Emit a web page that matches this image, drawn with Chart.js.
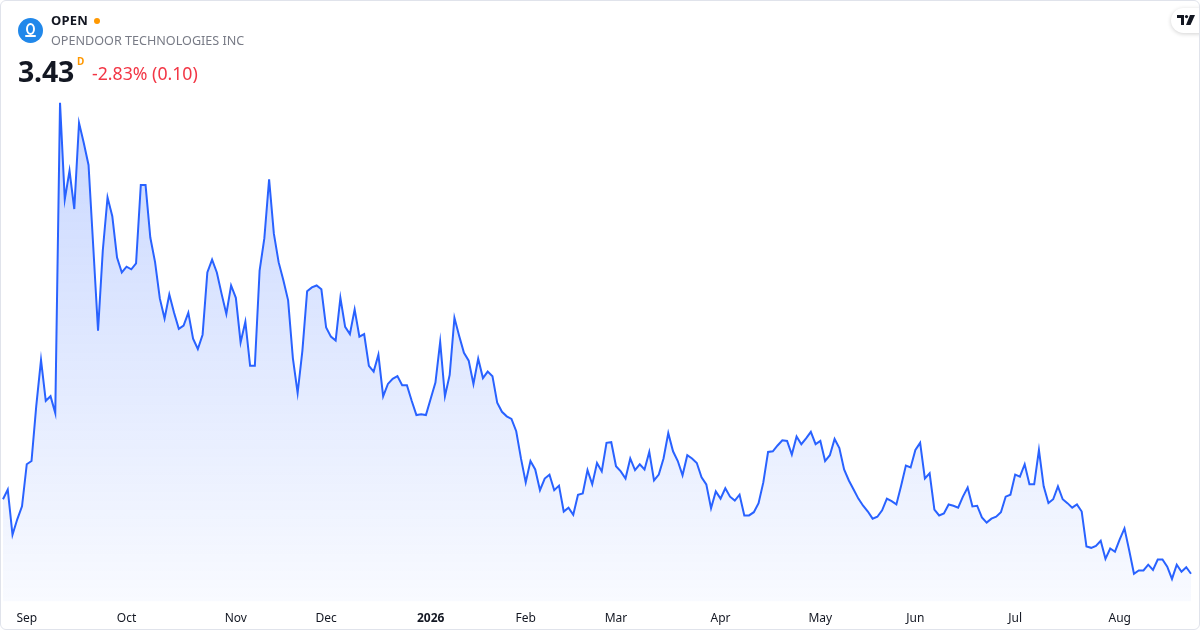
<!DOCTYPE html>
<html>
<head>
<meta charset="utf-8">
<script src="https://cdn.jsdelivr.net/npm/chart.js@4.4.1/dist/chart.umd.min.js"></script>
<style>
  html, body { margin: 0; padding: 0; background: #fff; }
  body { width: 1200px; height: 630px; position: relative; overflow: hidden; font-family: "Noto Sans", Roboto, sans-serif; }
  .card { position: absolute; left: 0; top: 0; width: 1198px; height: 628px; border: 1px solid #e0e3eb; border-radius: 6px; z-index: 2; pointer-events: none; }
  .chart-box { position: absolute; left: 0; top: 0; width: 1200px; height: 642px; }
  .logo { position: absolute; left: 18px; top: 18px; width: 25px; height: 25px; border-radius: 50%; background: #2188ea; }
  .logo .ring { position: absolute; left: 8px; top: 5px; width: 5px; height: 8px; border: 2px solid #fff; border-radius: 50%; }
  .logo .base { position: absolute; left: 7px; top: 17px; width: 11px; height: 2px; background: #fff; border-radius: 1px; }
  .sym { position: absolute; left: 51px; top: 11px; font-size: 13px; font-weight: 700; color: #131722; letter-spacing: 0.2px; }
  .dot { position: absolute; left: 94px; top: 18px; width: 6px; height: 6px; border-radius: 50%; background: #ff9800; }
  .name { position: absolute; left: 51px; top: 32px; font-size: 12.6px; color: #787b86; }
  .price { position: absolute; left: 18px; top: 52px; font-size: 28.5px; font-weight: 700; color: #131722; letter-spacing: -0.2px; }
  .dlabel { position: absolute; left: 77px; top: 54px; font-size: 10px; font-weight: 700; color: #ff9800; }
  .change { position: absolute; left: 92px; top: 61px; font-size: 17.7px; color: #f23645; }
  .tv { position: absolute; left: 1171px; top: 8px; width: 40px; height: 25px; border-radius: 13px; background: #fff; box-shadow: 0 1px 4px rgba(0,0,0,0.18); }
  .tv svg { position: absolute; left: 6px; top: 7px; }
</style>
</head>
<body>
<div class="card"></div>
<div class="chart-box"><canvas id="priceChart" width="1200" height="642"></canvas></div>
<div class="logo"><div class="ring"></div><div class="base"></div></div>
<div class="sym">OPEN</div>
<div class="dot"></div>
<div class="name">OPENDOOR TECHNOLOGIES INC</div>
<div class="price">3.43</div>
<div class="dlabel">D</div>
<div class="change">-2.83% (0.10)</div>
<div class="tv"><svg width="18" height="10" viewBox="0 0 18 10"><path d="M0 0h7v10H4V3H0z" fill="#131722"/><circle cx="9.5" cy="1.6" r="1.6" fill="#131722"/><path d="M13 0h5l-4.5 10H9z" fill="#131722"/></svg></div>
<script>
// Daily closes, OPEN, late Aug 2025 - Aug 2026
const startDate = "2025-08-25";
const holidays = [
  "2025-09-01", "2025-11-27", "2025-12-25", "2026-01-01", "2026-01-19",
  "2026-02-16", "2026-04-03", "2026-05-25", "2026-06-19", "2026-07-03",
];
const monthNames = ["Jan", "Feb", "Mar", "Apr", "May", "Jun", "Jul", "Aug", "Sep", "Oct", "Nov", "Dec"];

const closes = [
  4.58, 4.73, 4.03, 4.27, 4.47, 5.12, 5.17, 6.02, 6.73, 6.10,
  6.17, 5.91, 10.70, 9.21, 9.65, 9.06, 10.39, 10.08, 9.74, 8.47,
  7.18, 8.42, 9.24, 8.95, 8.31, 8.08, 8.17, 8.13, 8.22, 9.43,
  9.43, 8.62, 8.24, 7.68, 7.37, 7.74, 7.46, 7.21, 7.26, 7.46,
  7.06, 6.90, 7.12, 8.08, 8.28, 8.08, 7.75, 7.44, 7.88, 7.69,
  7.00, 7.32, 6.64, 6.64, 8.11, 8.61, 9.52, 8.68, 8.24, 7.96,
  7.65, 6.76, 6.22, 6.87, 7.79, 7.85, 7.88, 7.82, 7.23, 7.09,
  7.03, 7.69, 7.24, 7.13, 7.51, 7.09, 7.13, 6.64, 6.55, 6.81,
  6.17, 6.36, 6.44, 6.48, 6.34, 6.34, 6.10, 5.88, 5.89, 5.88,
  6.13, 6.38, 7.01, 6.17, 6.50, 7.38, 7.10, 6.84, 6.72, 6.36,
  6.75, 6.45, 6.55, 6.48, 6.07, 5.93, 5.86, 5.82, 5.63, 5.21,
  4.84, 5.17, 5.04, 4.72, 4.90, 4.96, 4.72, 4.79, 4.39, 4.45,
  4.34, 4.65, 4.67, 5.03, 4.81, 5.14, 5.01, 5.45, 5.46, 5.09,
  5.01, 4.90, 5.21, 5.03, 5.12, 5.04, 5.31, 4.87, 4.96, 5.21,
  5.60, 5.32, 5.17, 4.95, 5.26, 5.21, 5.14, 4.92, 4.81, 4.44,
  4.70, 4.59, 4.75, 4.62, 4.56, 4.65, 4.33, 4.33, 4.38, 4.52,
  4.84, 5.31, 5.32, 5.41, 5.49, 5.48, 5.27, 5.55, 5.43, 5.52,
  5.62, 5.43, 5.48, 5.17, 5.26, 5.51, 5.37, 5.04, 4.87, 4.73,
  4.59, 4.48, 4.39, 4.28, 4.31, 4.41, 4.59, 4.55, 4.50, 4.79,
  5.10, 5.07, 5.34, 5.45, 4.90, 4.98, 4.42, 4.33, 4.36, 4.50,
  4.48, 4.45, 4.62, 4.76, 4.47, 4.48, 4.30, 4.22, 4.28, 4.31,
  4.38, 4.62, 4.65, 4.96, 4.93, 5.12, 4.81, 4.81, 5.34, 4.78,
  4.52, 4.58, 4.78, 4.58, 4.52, 4.45, 4.50, 4.39, 3.85, 3.83,
  3.86, 3.94, 3.66, 3.82, 3.77, 3.96, 4.13, 3.79, 3.43, 3.48,
  3.48, 3.57, 3.49, 3.65, 3.65, 3.54, 3.35, 3.57, 3.46, 3.53,
  3.43,
];

// trading days: weekdays minus exchange holidays
const tradingDays = [];
let day = new Date(startDate + "T00:00:00Z");
while (tradingDays.length < closes.length) {
  const iso = day.toISOString().slice(0, 10);
  const wd = day.getUTCDay();
  if (wd !== 0 && wd !== 6 && !holidays.includes(iso)) tradingDays.push(new Date(day));
  day.setUTCDate(day.getUTCDate() + 1);
}

function monthLabel(index) {
  const d = tradingDays[index];
  const prev = tradingDays[index - 1];
  if (!prev || d.getUTCMonth() === prev.getUTCMonth()) return null;
  return d.getUTCMonth() === 0 ? String(d.getUTCFullYear()) : monthNames[d.getUTCMonth()];
}

const ctx = document.getElementById("priceChart").getContext("2d");
const priceChart = new Chart(ctx, {
  type: "line",
  data: {
    labels: tradingDays.map((d) => d.toISOString().slice(0, 10)),
    datasets: [
      {
        data: closes,
        borderColor: "#2962ff",
        borderWidth: 2,
        pointRadius: 0,
        tension: 0,
        fill: "start",
        backgroundColor: (c) => {
          const area = c.chart.chartArea;
          if (!area) return "rgba(41,98,255,0.1)";
          const g = c.chart.ctx.createLinearGradient(0, area.top, 0, area.bottom);
          g.addColorStop(0, "rgba(41,98,255,0.26)");
          g.addColorStop(1, "rgba(41,98,255,0.03)");
          return g;
        },
      },
    ],
  },
  options: {
    responsive: false,
    animation: false,
    layout: { padding: { left: 3, right: 9, top: 95, bottom: 6 } },
    plugins: { legend: { display: false }, tooltip: { enabled: false } },
    scales: {
      x: {
        grid: { display: false, drawTicks: false },
        border: { display: false },
        ticks: {
          autoSkip: false,
          maxRotation: 0,
          padding: 10,
          color: "#131722",
          font: (c) => ({
            family: "'Noto Sans', Roboto, sans-serif",
            size: 12,
            weight: c.tick && /^\d{4}$/.test(c.tick.label) ? "bold" : "normal",
          }),
          callback: (value, index) => monthLabel(index),
        },
      },
      y: {
        display: false,
        min: 3.0,
        max: 10.82,
      },
    },
  },
});
</script>
</body>
</html>
